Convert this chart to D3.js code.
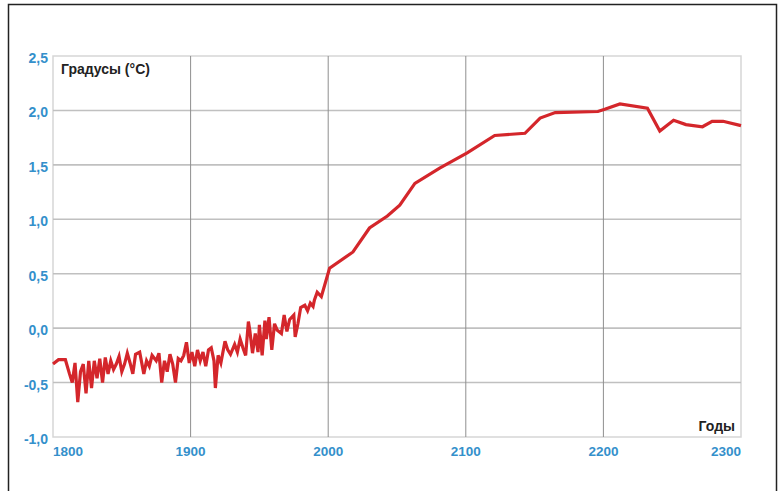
<!DOCTYPE html>
<html><head><meta charset="utf-8">
<script src="https://cdn.jsdelivr.net/npm/d3@7"></script>
<style>body{margin:0;background:#fff;}svg{display:block;font-family:"Liberation Sans",Arial,sans-serif;}</style>
</head><body>
<script>
// Data
const years = [1800,1804,1809,1812,1814,1816,1818,1820,1822,1824,1826,1828,1830,1832,1834,1836,1838,1840,1842,1844,1846,1848,1850,1852,1854,1856,1858,1860,1863,1866,1868,1870,1872,1875,1877,1879,1881,1883,1885,1887,1889,1891,1893,1895,1897,1899,1901,1903,1905,1907,1909,1911,1913,1915,1917,1918,1920,1922,1925,1927,1929,1932,1934,1936,1938,1940,1942,1943,1945,1947,1949,1950,1952,1954,1955,1957,1959,1961,1963,1966,1968,1970,1972,1975,1976,1978,1980,1983,1985,1987,1989,1990,1992,1995,2001,2018,2030,2043,2052,2063,2081,2101,2121,2143,2154,2165,2196,2201,2212,2232,2241,2251,2260,2272,2279,2287,2300];
const temps = [-0.33,-0.29,-0.29,-0.42,-0.50,-0.32,-0.68,-0.40,-0.33,-0.60,-0.30,-0.55,-0.30,-0.46,-0.28,-0.50,-0.27,-0.42,-0.30,-0.38,-0.33,-0.26,-0.40,-0.33,-0.23,-0.32,-0.42,-0.24,-0.22,-0.42,-0.30,-0.35,-0.25,-0.30,-0.23,-0.50,-0.30,-0.40,-0.24,-0.33,-0.50,-0.28,-0.30,-0.25,-0.13,-0.32,-0.22,-0.35,-0.20,-0.30,-0.22,-0.35,-0.20,-0.18,-0.30,-0.55,-0.25,-0.32,-0.12,-0.20,-0.24,-0.15,-0.22,-0.10,-0.18,-0.25,0.06,-0.02,-0.23,-0.05,-0.22,0.03,-0.25,0.07,-0.10,0.10,-0.20,0.04,-0.02,-0.05,0.12,-0.03,0.08,0.12,-0.08,0.04,0.19,0.21,0.16,0.23,0.20,0.26,0.33,0.29,0.55,0.70,0.92,1.03,1.13,1.33,1.47,1.61,1.77,1.79,1.93,1.98,1.99,2.01,2.06,2.02,1.81,1.91,1.87,1.85,1.90,1.90,1.86];
const xTicks = [1800,1900,2000,2100,2200,2300];
const yTicks = [-1.0,-0.5,0.0,0.5,1.0,1.5,2.0,2.5];
const yAxisTitle = "Градусы (°C)";
const xAxisTitle = "Годы";

const W = 784, H = 491;
const svg = d3.select("body").append("svg").attr("width", W).attr("height", H);

// outer frame
svg.append("rect").attr("x", 8.5).attr("y", 4.5).attr("width", 768).attr("height", 500)
  .attr("fill", "none").attr("stroke", "#222").attr("stroke-width", 1.5);

const pL = 53, pR = 741, pT = 56, pB = 437;
const x = d3.scaleLinear().domain([1800, 2300]).range([pL, pR]);
const y = d3.scaleLinear().domain([-1, 2.5]).range([pB, pT]);

// plot border
svg.append("rect").attr("x", pL).attr("y", pT).attr("width", pR-pL).attr("height", pB-pT)
  .attr("fill", "none").attr("stroke", "#d6d6d6").attr("stroke-width", 1.5);

// horizontal grid
svg.append("g").selectAll("line").data(yTicks.filter(v => v > -1 && v < 2.5)).join("line")
  .attr("x1", pL).attr("x2", pR).attr("y1", d => y(d)).attr("y2", d => y(d))
  .attr("stroke", "#c0c0c0").attr("stroke-width", 1.6);
// vertical grid
svg.append("g").selectAll("line").data(xTicks.filter(v => v > 1800 && v < 2300)).join("line")
  .attr("y1", pT).attr("y2", pB).attr("x1", d => x(d)).attr("x2", d => x(d))
  .attr("stroke", "#8f8f8f").attr("stroke-width", 1);

const fmt = d => d.toFixed(1).replace(".", ",");
// y labels
svg.append("g").selectAll("text").data(yTicks).join("text")
  .attr("x", 48).attr("y", d => y(d) + 7)
  .attr("text-anchor", "end").attr("font-size", 14).attr("font-weight", "bold")
  .attr("fill", "#3490cb").text(fmt);
// x labels
svg.append("g").selectAll("text").data(xTicks).join("text")
  .attr("x", d => x(d)).attr("y", 456)
  .attr("text-anchor", (d, i) => i === 0 ? "start" : (i === xTicks.length - 1 ? "end" : "middle"))
  .attr("font-size", 13.5).attr("font-weight", "bold")
  .attr("fill", "#3490cb").text(d => d);

// titles
svg.append("text").attr("x", 61).attr("y", 74).attr("font-size", 14).attr("font-weight", "bold")
  .attr("fill", "#222").text(yAxisTitle);
svg.append("text").attr("x", 735).attr("y", 431).attr("text-anchor", "end").attr("font-size", 14)
  .attr("font-weight", "bold").attr("fill", "#222").text(xAxisTitle);

// line
const data = years.map((yr, i) => ({yr, v: temps[i]}));
svg.append("path").datum(data)
  .attr("d", d3.line().x(d => x(d.yr)).y(d => y(d.v)))
  .attr("fill", "none").attr("stroke", "#d4262b").attr("stroke-width", 3.2)
  .attr("stroke-linejoin", "miter").attr("stroke-miterlimit", 4);
</script>
</body></html>
